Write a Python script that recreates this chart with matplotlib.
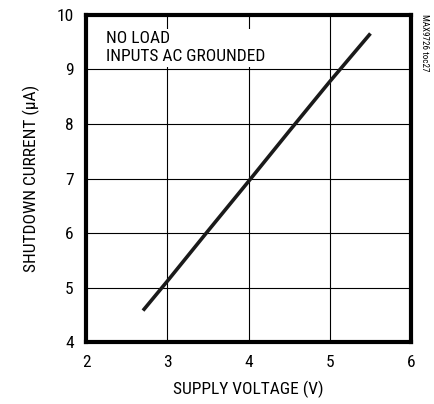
import matplotlib
matplotlib.use("Agg")
import matplotlib.pyplot as plt

plt.rcParams["font.family"] = ["Roboto Condensed", "DejaVu Sans"]

# data
supply_v = [2.7, 3.0, 3.5, 4.0, 4.5, 5.0, 5.5]
shutdown_ua = [4.58, 5.12, 6.04, 6.95, 7.87, 8.78, 9.66]
x_ticks = [2, 3, 4, 5, 6]
y_ticks = [4, 5, 6, 7, 8, 9, 10]

fig = plt.figure(figsize=(4.35, 4.04), dpi=100)
ax = fig.add_axes([0.198, 0.153, 0.747, 0.810])

ax.plot(supply_v, shutdown_ua, color="#1a1a1a", linewidth=2.6, solid_capstyle="butt", zorder=3)

ax.set_xlim(2, 6)
ax.set_ylim(4, 10)
ax.set_xticks(x_ticks)
ax.set_yticks(y_ticks)
ax.grid(True, color="black", linewidth=0.8)
ax.tick_params(length=0, labelsize=12.5, pad=9)
for s in ax.spines.values():
    s.set_linewidth(3)

ax.set_xlabel("SUPPLY VOLTAGE (V)", fontsize=12.5, labelpad=8)
ax.set_ylabel("SHUTDOWN CURRENT (\u03bcA)", fontsize=12.5, labelpad=12)

ax.text(0.062, 0.95, "NO LOAD\nINPUTS AC GROUNDED", transform=ax.transAxes,
        fontsize=12.5, va="top", ha="left", linespacing=1.25, zorder=4,
        bbox=dict(facecolor="white", edgecolor="none", pad=2))

fig.text(0.977, 0.965, "MAX9726 toc27", rotation=270, fontsize=6.5,
         va="top", ha="center")

fig.savefig("out.png", dpi=100)
